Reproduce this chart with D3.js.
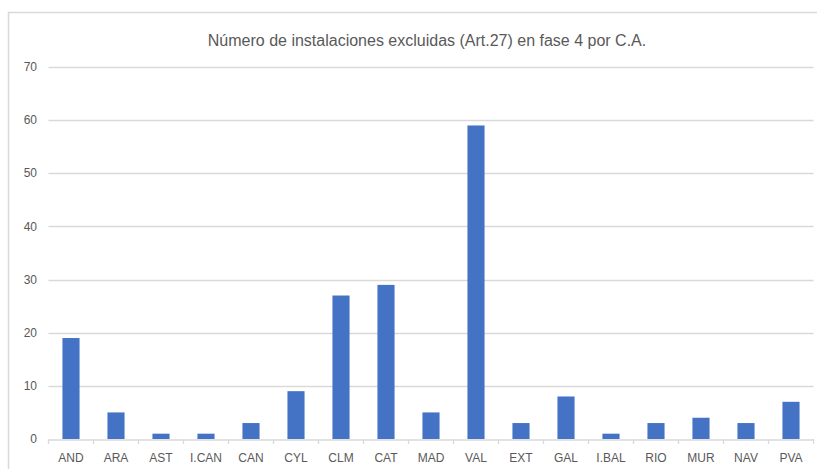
<!DOCTYPE html>
<html>
<head>
<meta charset="utf-8">
<style>
  body { margin: 0; background: #fff; }
  svg text { font-family: "Liberation Sans", "DejaVu Sans", sans-serif; fill: #595959; }
</style>
</head>
<body>
<svg id="chart"></svg>
<script src="https://cdn.jsdelivr.net/npm/d3@7"></script>
<script>
var categories = ['AND', 'ARA', 'AST', 'I.CAN', 'CAN', 'CYL', 'CLM', 'CAT', 'MAD', 'VAL', 'EXT', 'GAL', 'I.BAL', 'RIO', 'MUR', 'NAV', 'PVA'];
var values = [19, 5, 1, 1, 3, 9, 27, 29, 5, 59, 3, 8, 1, 3, 4, 3, 7];
var yTicks = [0, 10, 20, 30, 40, 50, 60, 70];
var title = 'Número de instalaciones excluidas (Art.27) en fase 4 por C.A.';

var svg = d3.select('#chart')
    .attr('width', 817)
    .attr('height', 469);

// chart area frame (right/bottom edges fall outside the window)
svg.append('rect')
    .attr('x', 8.5).attr('y', 12.5)
    .attr('width', 830).attr('height', 480)
    .style('fill', 'none')
    .style('stroke', '#d9d9d9')
    .style('stroke-width', 1.5);

var left = 48.5, right = 813.5;

var x = d3.scaleBand()
    .domain(categories)
    .range([left, right])
    .paddingInner(0.62)
    .paddingOuter(0.31);

var y = d3.scaleLinear()
    .domain([0, 70])
    .range([439, 67]);

// gridlines
svg.append('g')
    .selectAll('line')
    .data(yTicks.slice(1))
    .enter().append('line')
    .attr('x1', left).attr('x2', right)
    .attr('y1', function(d) { return Math.round(y(d)) + 0.5; })
    .attr('y2', function(d) { return Math.round(y(d)) + 0.5; })
    .style('stroke', '#d9d9d9')
    .style('stroke-width', 1.3);

// y labels
svg.append('g')
    .selectAll('text')
    .data(yTicks)
    .enter().append('text')
    .attr('x', 37)
    .attr('y', function(d) { return y(d); })
    .attr('dy', '0.35em')
    .attr('text-anchor', 'end')
    .style('font-size', '12px')
    .text(function(d) { return d; });

// bars
svg.append('g')
    .selectAll('rect')
    .data(values)
    .enter().append('rect')
    .attr('x', function(d, i) { return x(categories[i]); })
    .attr('y', function(d) { return y(d); })
    .attr('width', x.bandwidth())
    .attr('height', function(d) { return y(0) - y(d); })
    .style('fill', '#4472c4');

// x axis
var xAxis = d3.axisBottom(x).tickSize(0).tickPadding(14);
var xg = svg.append('g')
    .attr('transform', 'translate(0,' + (y(0) + 0.5) + ')')
    .call(xAxis);
xg.select('.domain').style('stroke', '#d9d9d9').style('stroke-width', 1.3);
xg.selectAll('text')
    .style('font-size', '12px')
    .style('font-family', '"Liberation Sans", sans-serif')
    .style('fill', '#595959');

// category boundary ticks
var step = x.step();
var bounds = d3.range(categories.length + 1).map(function(i) { return left + i * step; });
svg.append('g')
    .selectAll('line')
    .data(bounds)
    .enter().append('line')
    .attr('x1', function(d) { return d; }).attr('x2', function(d) { return d; })
    .attr('y1', y(0)).attr('y2', y(0) + 5)
    .style('stroke', '#d9d9d9')
    .style('stroke-width', 1.3);

// title
svg.append('text')
    .attr('x', 427)
    .attr('y', 46)
    .attr('text-anchor', 'middle')
    .style('font-size', '16px')
    .text(title);
</script>
</body>
</html>
